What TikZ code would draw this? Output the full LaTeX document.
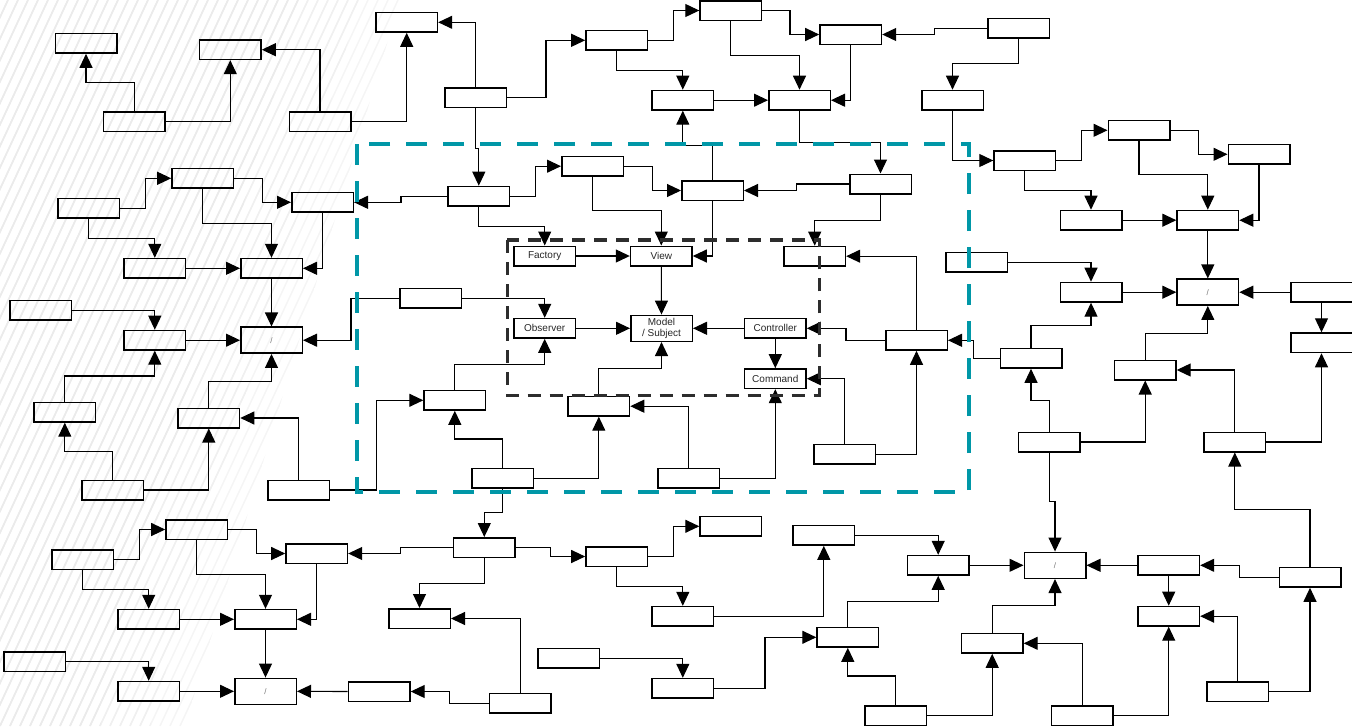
\documentclass[tikz,border=0pt]{standalone}
\usepackage{fontspec}
\setmainfont{Liberation Sans}
\usetikzlibrary{arrows.meta}
\definecolor{tealc}{RGB}{0,151,167}
\definecolor{darkd}{RGB}{45,45,45}
\begin{document}
\begin{tikzpicture}[x=1pt,y=-1pt,
  box/.style={draw,line width=1.5pt,minimum width=61.5pt,minimum height=19.5pt,inner sep=0pt,
    font=\fontsize{10}{10.5}\selectfont,text=black!85,align=center},
  tall/.style={box,minimum height=26pt},
  slash/.style={tall,font=\fontsize{8}{8}\selectfont,text=black!55},
  e/.style={draw,line width=1.1pt,-{Triangle[length=14pt,width=13pt]}},
  hatch/.style={line width=1.5pt}]
\useasboundingbox (0,0) rectangle (1352,726);
% background hatch
\begin{scope}
\clip (0,0) -- (400,0) -- (185,726) -- (0,726) -- cycle;
\foreach \i in {-360,-350,...,400} \draw[hatch,black!4] (\i,726) -- ++(338,-726);
\end{scope}
\begin{scope}
\clip (0,0) -- (360,0) -- (150,726) -- (0,726) -- cycle;
\foreach \i in {-360,-350,...,400} \draw[hatch,black!6] (\i,726) -- ++(338,-726);
\end{scope}
\begin{scope}
\clip (0,0) -- (300,0) -- (100,726) -- (0,726) -- cycle;
\foreach \i in {-360,-350,...,400} \draw[hatch,black!8] (\i,726) -- ++(338,-726);
\end{scope}
% nodes
\node[box] (B1) at (86,43.3) {};
\node[box] (B2) at (230.3,49.7) {};
\node[box] (B3) at (406.7,22.3) {};
\node[box] (B4) at (134.2,121.7) {};
\node[box] (B5) at (320,121.7) {};
\node[box] (B6) at (475.8,97.8) {};
\node[box] (B7) at (616.7,40.3) {};
\node[box] (B8) at (730.8,10.5) {};
\node[box] (B9) at (850.7,34.5) {};
\node[box] (B10) at (1018.7,28.3) {};
\node[box] (B11) at (682.8,100.2) {};
\node[box] (B12) at (799.5,100.2) {};
\node[box] (B13) at (880.5,184) {};
\node[box] (B14) at (478.8,196.2) {};
\node[box] (B15) at (592.5,166.2) {};
\node[box] (B16) at (712.5,190.5) {};
\node[box] (B17) at (814.7,256.2) {};
\node[box] (B18) at (952.5,100.2) {};
\node[box] (B19) at (1024.8,160.5) {};
\node[box] (B20) at (1139,130.3) {};
\node[box] (B21) at (1259,154.3) {};
\node[box] (B22) at (1091,220.2) {};
\node[box] (B23) at (1207.8,220.2) {};
\node[box] (B24) at (976.8,262.3) {};
\node[box] (B25) at (1091,292.2) {};
\node[slash] (S3) at (1207.8,292.2) {/};
\node[box] (B26) at (1321.5,292.2) {};
\node[box] (B27) at (1321.5,342.8) {};
\node[box] (B28) at (1031,358.3) {};
\node[box] (B29) at (916.5,340.3) {};
\node[box] (B30) at (844.5,454.2) {};
\node[box] (B31) at (1145.2,370) {};
\node[box] (B32) at (1049.2,442) {};
\node[box] (B33) at (1234.8,442) {};
\node[slash] (S4) at (1055,565.3) {/};
\node[box] (B35) at (938.2,565.3) {};
\node[box] (B36) at (823.8,535.3) {};
\node[box] (B37) at (847.8,637.3) {};
\node[box] (B38) at (1168.7,565.3) {};
\node[box] (B39) at (1310,577.3) {};
\node[box] (B40) at (1168.7,616.2) {};
\node[box] (B41) at (992.2,643.3) {};
\node[box] (B42) at (1082.2,715.5) {};
\node[box] (B43) at (1237.7,691.5) {};
\node[box] (B44) at (895.5,715.5) {};
\node[box] (B45) at (484.3,547.5) {};
\node[box] (B46) at (616.7,556.5) {};
\node[box] (B47) at (730.8,526.3) {};
\node[box] (B48) at (682.8,616.3) {};
\node[box] (B49) at (419.5,618.5) {};
\node[box] (B50) at (316.7,553.5) {};
\node[box] (B51) at (568.8,658.3) {};
\node[box] (B52) at (682.8,688.3) {};
\node[box] (B53) at (520.3,703.3) {};
\node[box] (B54) at (379.2,691.5) {};
\node[box] (B55) at (196.7,529.5) {};
\node[box] (B56) at (82.7,559.5) {};
\node[box] (B57) at (148.7,619.3) {};
\node[box] (B58) at (265.5,619.3) {};
\node[slash] (S5) at (265.5,691.3) {/};
\node[box] (B59) at (148.7,691.3) {};
\node[box] (B60) at (34.7,661.7) {};
\node[box] (B61) at (154.8,268.3) {};
\node[box] (B62) at (271.5,268.3) {};
\node[slash] (S1) at (271.5,340.2) {/};
\node[box] (B63) at (40.7,310.3) {};
\node[box] (B64) at (154.8,340.2) {};
\node[box] (B65) at (64.8,412.2) {};
\node[box] (B66) at (208.8,418) {};
\node[box] (B67) at (112.8,490) {};
\node[box] (B68) at (298.5,490) {};
\node[box] (B69) at (454.8,400.3) {};
\node[box] (B70) at (430.8,298.2) {};
\node[box] (B71) at (322.5,202.3) {};
\node[box] (B72) at (202.7,178.3) {};
\node[box] (B73) at (88.7,208.3) {};
\node[box] (Fac) at (544.7,256) {Factory};
\node[box] (View) at (661.3,256) {View};
\node[tall] (Model) at (661.5,328.3) {Model\\/ Subject};
\node[box] (Obs) at (544.7,328.3) {Observer};
\node[box] (Ctrl) at (775.3,328.3) {Controller};
\node[box] (Cmd) at (775.3,378.7) {Command};
\node[box] (B74) at (598.8,406.2) {};
\node[box] (B75) at (502.7,478.2) {};
\node[box] (B76) at (688.7,478.2) {};
% connectors
\draw[e] (B4.north) -- ++(0,-28.3) -| (B1.south);
\draw[e] (B4.east) -| (B2.south);
\draw[e] (B5.north) |- (B2.east);
\draw[e] (B5.east) -| (B3.south);
\draw[e] (B6.north) |- (B3.east);
\draw[e] (B6.east) -- ++(38.7,0) |- (B7.west);
\draw[e] (B7.east) -- ++(25,0) |- (B8.west);
\draw[e] (B8.east) -- ++(27.7,0) |- (B9.west);
\draw[e] (B10.west) -- ++(-52.7,0) |- (B9.east);
\draw[e] (B7.south) -- ++(0,19.3) -| (B11.north);
\draw[e] (B8.south) -- ++(0,34.3) -| (B12.north);
\draw[e] (B11.east) -- (B12.west);
\draw[e] (B9.south) |- (B12.east);
\draw[e] (B12.south) -- ++(0,31.6) -| (B13.north);
\draw[e] (B6.south) -- ++(0,40) -| (B14.north);
\draw[e] (B14.east) -- ++(25.4,0) |- (B15.west);
\draw[e] (B15.east) -- ++(28.3,0) |- (B16.west);
\draw[e] (B13.west) -- ++(-52.3,0) |- (B16.east);
\draw[e] (B16.north) -- ++(0,-34.7) -| (B11.south);
\draw[e] (B16.south) |- (View.east);
\draw[e] (B15.south) -- ++(0,34) -| (View.north);
\draw[e] (B14.south) -- ++(0,20) -| (Fac.north);
\draw[e] (B13.south) -- ++(0,25.7) -| (B17.north);
\draw[e] (B14.west) -- ++(-46.3,0) |- (B71.east);
\draw[e] (B10.south) -- ++(0,25) -| (B18.north);
\draw[e] (B18.south) |- (B19.west);
\draw[e] (B19.east) -- ++(25.4,0) |- (B20.west);
\draw[e] (B20.east) -- ++(28,0) |- (B21.west);
\draw[e] (B19.south) -- ++(0,19.3) -| (B22.north);
\draw[e] (B20.south) -- ++(0,34) -| (B23.north);
\draw[e] (B21.south) |- (B23.east);
\draw[e] (B22.east) -- (B23.west);
\draw[e] (B23.south) -- (S3.north);
\draw[e] (B24.east) -| (B25.north);
\draw[e] (B25.east) -- (S3.west);
\draw[e] (B26.west) -- (S3.east);
\draw[e] (B26.south) -- (B27.north);
\draw[e] (B28.north) -- ++(0,-22) -| (B25.south);
\draw[e] (B28.west) -- ++(-26.4,0) |- (B29.east);
\draw[e] (B29.north) |- (B17.east);
\draw[e] (B30.east) -| (B29.south);
\draw[e] (B31.north) -- ++(0,-26.3) -| (S3.south);
\draw[e] (B32.north) -- ++(0,-31.3) -| (B28.south);
\draw[e] (B32.east) -| (B31.south);
\draw[e] (B33.north) |- (B31.east);
\draw[e] (B33.east) -| (B27.south);
\draw[e] (B32.south) -- ++(0,49) -| (S4.north);
\draw[e] (B35.east) -- (S4.west);
\draw[e] (B36.east) -| (B35.north);
\draw[e] (B37.north) -- ++(0,-25.4) -| (B35.south);
\draw[e] (B38.west) -- (S4.east);
\draw[e] (B39.west) -- ++(-39.3,0) |- (B38.east);
\draw[e] (B39.north) -- ++(0,-57) -| (B33.south);
\draw[e] (B38.south) -- (B40.north);
\draw[e] (B41.north) -- ++(0,-27) -| (S4.south);
\draw[e] (B42.north) |- (B41.east);
\draw[e] (B42.east) -| (B40.south);
\draw[e] (B43.north) |- (B40.east);
\draw[e] (B43.east) -| (B39.south);
\draw[e] (B44.east) -| (B41.south);
\draw[e] (B44.north) -- ++(0,-29) -| (B37.south);
\draw[e] (B75.south) -- ++(0,24) -| (B45.north);
\draw[e] (B45.east) -- ++(34.3,0) |- (B46.west);
\draw[e] (B46.east) -- ++(25,0) |- (B47.west);
\draw[e] (B46.south) -- ++(0,19.3) -| (B48.north);
\draw[e] (B48.east) -| (B36.south);
\draw[e] (B45.south) -- ++(0,25.3) -| (B49.north);
\draw[e] (B45.west) -- ++(-52,0) |- (B50.east);
\draw[e] (B51.east) -| (B52.north);
\draw[e] (B52.east) -- ++(50.7,0) |- (B37.west);
\draw[e] (B53.north) |- (B49.east);
\draw[e] (B53.west) -- ++(-39,0) |- (B54.east);
\draw[e] (B56.east) -- ++(25,0) |- (B55.west);
\draw[e] (B55.east) -- ++(28,0) |- (B50.west);
\draw[e] (B56.south) -- ++(0,19.3) -| (B57.north);
\draw[e] (B55.south) -- ++(0,34.3) -| (B58.north);
\draw[e] (B50.south) |- (B58.east);
\draw[e] (B57.east) -- (B58.west);
\draw[e] (B58.south) -- (S5.north);
\draw[e] (B59.east) -- (S5.west);
\draw[e] (B54.west) -- (S5.east);
\draw[e] (B60.east) -| (B59.north);
\draw[e] (B61.east) -- (B62.west);
\draw[e] (B62.south) -- (S1.north);
\draw[e] (B63.east) -| (B64.north);
\draw[e] (B64.east) -- (S1.west);
\draw[e] (B65.north) -- ++(0,-25.7) -| (B64.south);
\draw[e] (B66.north) -- ++(0,-26.3) -| (S1.south);
\draw[e] (B67.north) -- ++(0,-28.3) -| (B65.south);
\draw[e] (B67.east) -| (B66.south);
\draw[e] (B68.north) |- (B66.east);
\draw[e] (B68.east) -- ++(46.7,0) |- (B69.west);
\draw[e] (B70.west) -- ++(-48.3,0) |- (S1.east);
\draw[e] (B73.east) -- ++(25.4,0) |- (B72.west);
\draw[e] (B72.east) -- ++(28.4,0) |- (B71.west);
\draw[e] (B73.south) -- ++(0,19.3) -| (B61.north);
\draw[e] (B72.south) -- ++(0,34.3) -| (B62.north);
\draw[e] (B71.south) |- (B62.east);
\draw[e] (Fac.east) -- (View.west);
\draw[e] (View.south) -- (Model.north);
\draw[e] (Obs.east) -- (Model.west);
\draw[e] (Ctrl.west) -- (Model.east);
\draw[e] (Ctrl.south) -- (Cmd.north);
\draw[e] (B70.east) -| (Obs.north);
\draw[e] (B69.north) -- ++(0,-25.4) -| (Obs.south);
\draw[e] (B74.north) -- ++(0,-27) -| (Model.south);
\draw[e] (B75.north) -- ++(0,-28.7) -| (B69.south);
\draw[e] (B75.east) -| (B74.south);
\draw[e] (B76.north) |- (B74.east);
\draw[e] (B76.east) -| (Cmd.south);
\draw[e] (B30.north) |- (Cmd.east);
\draw[e] (B29.west) -- ++(-39,0) |- (Ctrl.east);
% dashed frames
\draw[tealc,line width=4.2pt,dash pattern=on 21pt off 16pt] (357,144) rectangle (969,492);
\draw[darkd,line width=3.5pt,dash pattern=on 13pt off 9pt] (507.3,240) rectangle (819.3,395.7);
\end{tikzpicture}
\end{document}
